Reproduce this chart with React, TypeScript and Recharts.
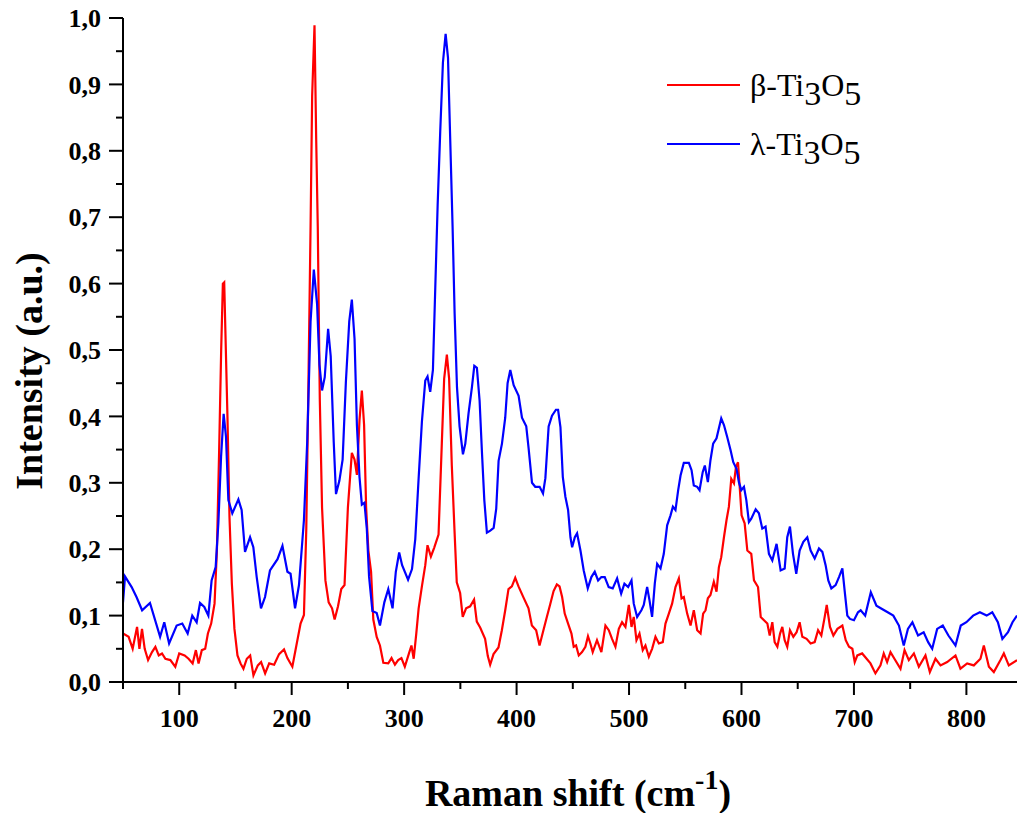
import React from 'react';
import { LineChart, Line, XAxis, YAxis, Legend, Label } from 'recharts';

// beta-Ti3O5 (red)
const betaShift = [
  50, 55, 58.6, 62.5, 64.6, 66.9, 69.3, 72.3, 75.8, 78.8, 81.8, 84.7, 87.7, 92.1, 96.5, 100, 104.8, 108.3, 111.9, 114.8,
  117.2, 120.1, 123.1, 125.5, 128.4, 131.4, 133.5, 135.5, 137.3, 138.8, 140, 141.1, 142.9, 144.7, 146.8, 149.1, 151.8, 154.5, 157.1, 160.1,
  163.1, 166, 169.9, 172.8, 176.4, 180, 184.4, 188.8, 193.2, 196.2, 200.6, 203.5, 207.9, 210.9, 213, 214.7, 216.8, 218.2, 220.3, 221.8,
  223.2, 225, 227, 230, 232.9, 235.9, 238.2, 241.2, 244.1, 247, 250, 253.5, 255.9, 258, 260.3, 262.4, 264.4, 266.2, 268.2, 270.6,
  272.6, 275.6, 278.5, 281.5, 285.9, 288.8, 291.8, 294.7, 297.6, 300.6, 304.1, 306.5, 308.5, 310.8, 312.9, 315.8, 318.8, 320.8, 323.8, 326.7,
  330.6, 333.5, 335.6, 338, 340, 342.4, 344.8, 346.8, 349.8, 352.1, 355.1, 358.7, 362.2, 364.6, 367.6, 372, 374.4, 376.5, 379.5, 383.9,
  386.9, 389.9, 392.8, 395.8, 398.8, 401.7, 406.2, 410.6, 413.6, 417.4, 420.4, 423.4, 426.9, 429.9, 432.9, 435.8, 438.2, 440.5, 442.8, 445.8,
  448.8, 450.8, 452.9, 455.3, 458.2, 461.2, 463.5, 465.6, 467.7, 471.5, 475.4, 479, 482, 484.9, 487.9, 490.9, 493.8, 496.8, 499.8, 502.2,
  504.2, 506.6, 509.3, 512.2, 514.6, 517.6, 520.5, 523.5, 526.5, 530, 532.4, 535.4, 538.3, 541.3, 544.3, 546.7, 548.7, 551.7, 554.7, 557.6,
  560.6, 563.6, 565.9, 568, 570.1, 572.4, 575.4, 577.8, 579.9, 582, 584.4, 586.7, 588.8, 590.9, 593.3, 595.1, 596.9, 598.6, 600.1, 602.8,
  605.2, 608.7, 611.1, 614.7, 617.1, 620, 623, 625.1, 627.4, 629.5, 631.9, 634.3, 636.3, 638.4, 640.7, 643.1, 646.1, 649, 651.7, 654.1,
  657.9, 661.5, 665.1, 668.1, 671, 674, 675.8, 678.7, 681.7, 685.3, 689.7, 692.7, 695.6, 698.6, 700.7, 703, 707.3, 714.7, 719.1, 723.6,
  726.5, 729.5, 732.5, 736, 741.4, 745, 748.8, 753.3, 757.7, 763.6, 767.5, 772.5, 777, 782.9, 790.3, 794.7, 800.7, 806.6, 812.5, 815.5,
  820, 824.4, 830.3, 833.3, 837.7, 845,
];
const betaIntensity = [
  0.073, 0.068, 0.05, 0.083, 0.05, 0.08, 0.05, 0.033, 0.045, 0.053, 0.04, 0.043, 0.035, 0.033, 0.023, 0.043, 0.04, 0.035, 0.028, 0.048,
  0.028, 0.048, 0.05, 0.073, 0.088, 0.118, 0.198, 0.349, 0.5, 0.6, 0.602, 0.525, 0.399, 0.248, 0.148, 0.08, 0.04, 0.028, 0.02, 0.035,
  0.04, 0.01, 0.025, 0.03, 0.013, 0.028, 0.026, 0.042, 0.049, 0.036, 0.023, 0.049, 0.088, 0.101, 0.231, 0.426, 0.686, 0.882, 0.989, 0.817,
  0.686, 0.426, 0.263, 0.153, 0.12, 0.111, 0.094, 0.114, 0.14, 0.146, 0.263, 0.345, 0.335, 0.312, 0.394, 0.439, 0.387, 0.263, 0.198, 0.166,
  0.094, 0.068, 0.055, 0.029, 0.028, 0.036, 0.026, 0.033, 0.036, 0.023, 0.042, 0.055, 0.035, 0.073, 0.111, 0.144, 0.176, 0.206, 0.189, 0.202,
  0.222, 0.359, 0.457, 0.493, 0.457, 0.326, 0.228, 0.15, 0.134, 0.098, 0.111, 0.114, 0.124, 0.091, 0.082, 0.065, 0.039, 0.026, 0.042, 0.052,
  0.078, 0.108, 0.14, 0.144, 0.157, 0.144, 0.127, 0.111, 0.085, 0.078, 0.055, 0.075, 0.098, 0.117, 0.137, 0.147, 0.144, 0.128, 0.103, 0.088,
  0.073, 0.053, 0.055, 0.04, 0.045, 0.053, 0.069, 0.058, 0.045, 0.063, 0.045, 0.085, 0.078, 0.065, 0.053, 0.08, 0.09, 0.083, 0.116, 0.083,
  0.098, 0.063, 0.073, 0.048, 0.055, 0.038, 0.05, 0.068, 0.058, 0.06, 0.088, 0.103, 0.118, 0.143, 0.156, 0.126, 0.128, 0.103, 0.085, 0.108,
  0.078, 0.073, 0.103, 0.108, 0.126, 0.131, 0.151, 0.136, 0.173, 0.188, 0.218, 0.244, 0.264, 0.306, 0.299, 0.324, 0.331, 0.289, 0.251, 0.239,
  0.198, 0.193, 0.153, 0.143, 0.098, 0.093, 0.088, 0.07, 0.09, 0.06, 0.053, 0.073, 0.083, 0.063, 0.053, 0.078, 0.068, 0.075, 0.09, 0.068,
  0.065, 0.058, 0.06, 0.078, 0.07, 0.098, 0.116, 0.083, 0.07, 0.08, 0.085, 0.063, 0.053, 0.05, 0.03, 0.04, 0.043, 0.028, 0.013, 0.025,
  0.043, 0.03, 0.045, 0.035, 0.02, 0.048, 0.033, 0.043, 0.023, 0.04, 0.015, 0.035, 0.025, 0.03, 0.04, 0.02, 0.028, 0.025, 0.035, 0.055,
  0.023, 0.015, 0.033, 0.043, 0.025, 0.033,
];

// lambda-Ti3O5 (blue)
const lambdaShift = [
  50, 51.8, 57.7, 62, 67, 74, 83, 86.7, 91, 97.7, 102.7, 107.5, 111.6, 115.5, 118.5, 122.3, 125.9, 128.8, 132.4, 134.8,
  137.2, 139.5, 141.6, 143.7, 147.2, 152.6, 155.5, 158.5, 163, 165.9, 168.9, 172.7, 176.3, 180.7, 187.4, 191.8, 196.2, 199, 203, 206.5,
  210.9, 213.8, 216.8, 219.7, 222.6, 224.7, 227, 229.4, 232.4, 234.7, 237.4, 239.4, 242.4, 245.3, 248.2, 251.2, 253.5, 255.9, 258, 260.3,
  262.4, 264.7, 266.8, 268.8, 271.8, 275.6, 278.5, 282.4, 285.9, 289.7, 292.6, 295.6, 298.2, 303.5, 307, 309.9, 312.9, 315.8, 318.8, 320.8,
  323.2, 325.6, 327.7, 329.8, 332.1, 334.5, 336.9, 339, 341, 343.1, 344.9, 347, 349.3, 352.3, 354.4, 357.3, 360.3, 362.4, 364.7, 367.1,
  369.2, 371.3, 373.6, 376.6, 379.6, 381.9, 384, 387, 389.9, 392, 394.4, 397.4, 401.8, 404.8, 408.6, 410.7, 413.7, 416.6, 420.5, 423.5,
  425.6, 428.5, 431.5, 435, 436.9, 439, 441.1, 443.4, 445.8, 447.9, 449.4, 451.8, 453.8, 456.8, 459.7, 463.3, 466.5, 469.5, 472.5, 475.4,
  478.4, 481.9, 485.5, 489.4, 493, 495.9, 499.2, 502.2, 504.2, 507.2, 511, 513.1, 516.1, 518.2, 520.5, 522.9, 525, 528, 530.9, 533.9,
  536.9, 539, 541.3, 543.7, 545.8, 548.7, 553.2, 555.6, 557.6, 560.6, 562.7, 565.5, 567.4, 570.1, 572.4, 574.8, 577.8, 579.9, 582, 584.4,
  587.3, 590.3, 592.7, 595.6, 597.7, 599.8, 602.2, 604.3, 606.6, 608.7, 612.6, 615.5, 618.5, 621.4, 624.4, 627.4, 631.2, 634.8, 638.4, 640.7,
  643.1, 645.8, 648.7, 651.7, 655, 658.5, 661.5, 665.1, 668.9, 671.9, 674.8, 677.2, 679.9, 683.7, 686.7, 689.7, 691.7, 694.1, 696.5, 700,
  703.6, 706, 710, 715, 720, 725, 730, 735, 740, 744.3, 748, 752, 757, 762, 766, 769.6, 774, 779, 784, 790.3,
  795, 800, 806, 812, 818, 823, 828, 832, 837, 841, 845,
];
const lambdaIntensity = [
  0.12, 0.159, 0.143, 0.128, 0.108, 0.119, 0.068, 0.09, 0.058, 0.085, 0.088, 0.073, 0.1, 0.09, 0.119, 0.113, 0.1, 0.153, 0.173, 0.239,
  0.339, 0.404, 0.369, 0.274, 0.254, 0.275, 0.259, 0.196, 0.218, 0.203, 0.158, 0.111, 0.128, 0.168, 0.185, 0.205, 0.166, 0.163, 0.111, 0.146,
  0.244, 0.361, 0.543, 0.621, 0.569, 0.478, 0.439, 0.459, 0.532, 0.491, 0.361, 0.283, 0.303, 0.335, 0.452, 0.543, 0.576, 0.517, 0.387, 0.309,
  0.267, 0.27, 0.231, 0.159, 0.107, 0.104, 0.085, 0.12, 0.14, 0.111, 0.166, 0.195, 0.176, 0.154, 0.17, 0.215, 0.307, 0.392, 0.454, 0.46,
  0.437, 0.47, 0.594, 0.718, 0.829, 0.933, 0.976, 0.94, 0.816, 0.685, 0.555, 0.444, 0.385, 0.343, 0.359, 0.405, 0.444, 0.476, 0.473, 0.424,
  0.346, 0.274, 0.225, 0.228, 0.232, 0.261, 0.333, 0.359, 0.398, 0.45, 0.47, 0.447, 0.431, 0.398, 0.385, 0.352, 0.3, 0.294, 0.294, 0.284,
  0.307, 0.385, 0.401, 0.41, 0.41, 0.384, 0.309, 0.279, 0.259, 0.218, 0.203, 0.218, 0.224, 0.198, 0.168, 0.141, 0.158, 0.166, 0.153, 0.158,
  0.158, 0.143, 0.141, 0.156, 0.133, 0.148, 0.143, 0.153, 0.118, 0.098, 0.108, 0.116, 0.143, 0.123, 0.098, 0.148, 0.178, 0.171, 0.193, 0.236,
  0.251, 0.264, 0.259, 0.289, 0.311, 0.33, 0.33, 0.319, 0.296, 0.294, 0.289, 0.316, 0.326, 0.301, 0.334, 0.359, 0.367, 0.382, 0.397, 0.387,
  0.369, 0.349, 0.331, 0.321, 0.301, 0.289, 0.294, 0.274, 0.241, 0.246, 0.26, 0.254, 0.231, 0.234, 0.193, 0.183, 0.208, 0.168, 0.171, 0.218,
  0.234, 0.193, 0.163, 0.198, 0.211, 0.218, 0.198, 0.186, 0.201, 0.196, 0.176, 0.153, 0.141, 0.146, 0.158, 0.171, 0.138, 0.1, 0.095, 0.093,
  0.105, 0.108, 0.1, 0.135, 0.115, 0.11, 0.105, 0.1, 0.085, 0.055, 0.08, 0.09, 0.07, 0.075, 0.06, 0.05, 0.08, 0.085, 0.07, 0.055,
  0.085, 0.09, 0.1, 0.105, 0.1, 0.105, 0.09, 0.065, 0.075, 0.09, 0.1,
];

const shiftTicks = [50, 100, 150, 200, 250, 300, 350, 400, 450, 500, 550, 600, 650, 700, 750, 800];
const intensityTicks = [0, 0.05, 0.1, 0.15, 0.2, 0.25, 0.3, 0.35, 0.4, 0.45, 0.5, 0.55, 0.6, 0.65, 0.7, 0.75, 0.8, 0.85, 0.9, 0.95, 1];

const betaData = betaShift.map((x, i) => ({ x, y: betaIntensity[i] }));
const lambdaData = lambdaShift.map((x, i) => ({ x, y: lambdaIntensity[i] }));

const serif = '"Liberation Serif", "Times New Roman", serif';

const BottomTick = (props: any) => {
  const { x, y, payload } = props;
  const major = payload.value % 100 === 0;
  return (
    <g>
      <line x1={x} x2={x} y1={y} y2={y + (major ? 13 : 7)} stroke="#000" strokeWidth={2} />
      {major && (
        <text x={x} y={y + 45} textAnchor="middle" fontFamily={serif} fontWeight="bold" fontSize={26} fill="#000">
          {payload.value}
        </text>
      )}
    </g>
  );
};

const TopTick = (props: any) => {
  const { x, y, payload } = props;
  const major = payload.value % 100 === 0;
  return <line x1={x} x2={x} y1={y} y2={y + (major ? 12 : 7)} stroke="#000" strokeWidth={2} />;
};

const LeftTick = (props: any) => {
  const { x, y, payload } = props;
  const major = Math.round(payload.value * 100) % 10 === 0;
  return (
    <g>
      <line x1={x - (major ? 14 : 7)} x2={x} y1={y} y2={y} stroke="#000" strokeWidth={2} />
      {major && (
        <text x={x - 22} y={y} dy="0.35em" textAnchor="end" fontFamily={serif} fontWeight="bold" fontSize={26} fill="#000">
          {payload.value.toFixed(1).replace('.', ',')}
        </text>
      )}
    </g>
  );
};

const renderLegend = () => (
  <svg width={260} height={120}>
    <line x1={7} x2={80} y1={25} y2={25} stroke="#ff0000" strokeWidth={2.2} />
    <text x={90} y={36} fontFamily={serif} fontSize={32} fill="#000">
      β-Ti<tspan dy={9} fontSize={34}>3</tspan><tspan dy={-9}>O</tspan><tspan dy={9} fontSize={34}>5</tspan>
    </text>
    <line x1={7} x2={80} y1={84} y2={84} stroke="#0000ff" strokeWidth={2.2} />
    <text x={90} y={95} fontFamily={serif} fontSize={32} fill="#000">
      λ-Ti<tspan dy={9} fontSize={34}>3</tspan><tspan dy={-9}>O</tspan><tspan dy={9} fontSize={34}>5</tspan>
    </text>
  </svg>
);

export default function App() {
  return (
    <div style={{ position: 'absolute', left: 0, top: 0, width: 1017, height: 813, background: '#fff' }}>
      <LineChart width={1017} height={813} margin={{ top: 18, right: 0, bottom: 0, left: 0 }}>
        <XAxis
          dataKey="x"
          type="number"
          domain={[50, 845]}
          allowDataOverflow
          ticks={shiftTicks}
          interval={0}
          height={131}
          tickSize={0}
          tickMargin={0}
          tickLine={false}
          axisLine={{ stroke: '#000', strokeWidth: 2 }}
          tick={<BottomTick />}
        >
          <Label
            content={() => (
              <text x={578} y={806} textAnchor="middle" fontFamily={serif} fontWeight="bold" fontSize={38} fill="#000">
                Raman shift (cm<tspan dy={-17} fontSize={28}>-1</tspan><tspan dy={17}>)</tspan>
              </text>
            )}
          />
        </XAxis>
        <XAxis
          xAxisId="top"
          orientation="top"
          dataKey="x"
          type="number"
          domain={[50, 845]}
          allowDataOverflow
          ticks={shiftTicks}
          interval={0}
          height={0}
          tickSize={0}
          tickMargin={0}
          tickLine={false}
          axisLine={{ stroke: '#000', strokeWidth: 2 }}
          tick={<TopTick />}
        />
        <YAxis
          type="number"
          domain={[0, 1]}
          ticks={intensityTicks}
          interval={0}
          width={123}
          tickSize={0}
          tickMargin={0}
          tickLine={false}
          axisLine={{ stroke: '#000', strokeWidth: 2 }}
          tick={<LeftTick />}
        >
          <Label
            content={() => (
              <text
                transform="translate(42, 371) rotate(-90)"
                textAnchor="middle"
                fontFamily={serif}
                fontWeight="bold"
                fontSize={38}
                fill="#000"
              >
                Intensity (a.u.)
              </text>
            )}
          />
        </YAxis>
        <Legend
          layout="horizontal"
          verticalAlign="middle"
          align="center"
          content={renderLegend}
          wrapperStyle={{ position: 'absolute', left: 660, top: 60, width: 260, height: 120 }}
        />
        <Line data={betaData} dataKey="y" type="linear" stroke="#ff0000" strokeWidth={2.2} dot={false} isAnimationActive={false} />
        <Line data={lambdaData} dataKey="y" type="linear" stroke="#0000ff" strokeWidth={2.2} dot={false} isAnimationActive={false} />
      </LineChart>
    </div>
  );
}
